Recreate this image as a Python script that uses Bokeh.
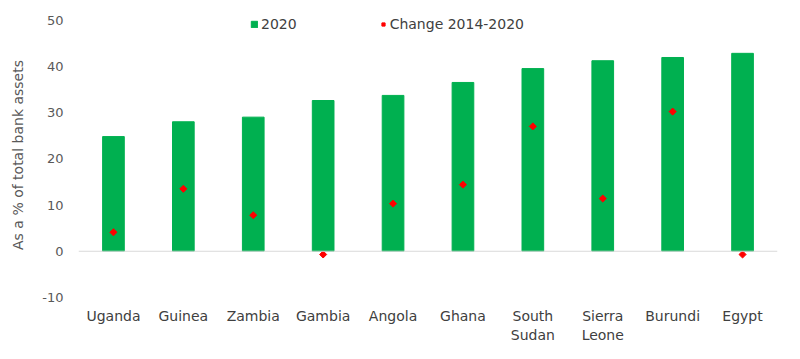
import math
from bokeh.plotting import figure
from bokeh.models import ColumnDataSource, FactorRange, Span, FixedTicker, Legend, LegendItem
from bokeh.embed import file_html
from bokeh.resources import INLINE

countries = ["Uganda", "Guinea", "Zambia", "Gambia", "Angola", "Ghana",
             "South\nSudan", "Sierra\nLeone", "Burundi", "Egypt"]
share_2020 = [24.8, 28.0, 29.0, 32.6, 33.7, 36.5, 39.5, 41.2, 41.9, 42.8]
change_2014_2020 = [4.1, 13.5, 7.8, -0.7, 10.3, 14.4, 27.0, 11.4, 30.2, -0.7]
y_ticks = [-10, 0, 10, 20, 30, 40, 50]

src = ColumnDataSource(dict(x=countries, bar=share_2020, chg=change_2014_2020))

FONT = "DejaVu Sans"
p = figure(x_range=FactorRange(*countries), y_range=(-10, 51.63),
           frame_width=699, frame_height=285,
           min_border_left=78, min_border_right=15, min_border_top=12, min_border_bottom=46,
           output_backend="svg", toolbar_location=None)
p.outline_line_color = None
p.xgrid.grid_line_color = None
p.ygrid.grid_line_color = None

bars = p.vbar(x="x", top="bar", width=0.31, source=src, fill_color="#00b050", line_color="#00b050")
pts = p.scatter(x="x", y="chg", source=src, marker="square", size=5, angle=math.pi / 4,
                fill_color="#ff0000", line_color="#ff0000")

zero = Span(location=0, dimension="width", line_color="#d9d9d9", line_width=1)
p.add_layout(zero)
p.renderers.remove(bars)
p.renderers.remove(pts)
p.renderers.extend([bars, pts])

for ax in (p.xaxis[0], p.yaxis[0]):
    ax.axis_line_color = None
    ax.major_tick_line_color = None
    ax.minor_tick_line_color = None
    ax.major_label_text_font = FONT
    ax.major_label_text_color = "#595959"

p.xaxis.major_label_text_font_size = "14px"
p.xaxis.major_label_text_color = "#404040"
p.xaxis.major_label_standoff = 4
p.yaxis.major_label_text_font_size = "13px"
p.yaxis.ticker = FixedTicker(ticks=y_ticks)
p.yaxis.major_label_overrides = {-10: "-10"}
p.yaxis.major_label_standoff = 9
p.yaxis.axis_label = "As a % of total bank assets"
p.yaxis.axis_label_text_font = FONT
p.yaxis.axis_label_text_font_style = "normal"
p.yaxis.axis_label_text_font_size = "14px"
p.yaxis.axis_label_text_color = "#595959"
p.yaxis.axis_label_standoff = 13

legend = Legend(items=[LegendItem(label="2020", renderers=[bars]),
                       LegendItem(label="Change 2014-2020", renderers=[pts])],
                orientation="horizontal", location=(172, 265))
legend.label_text_font = FONT
legend.label_text_font_size = "14px"
legend.label_text_color = "#404040"
legend.glyph_width = 8
legend.glyph_height = 8
legend.spacing = 82
legend.label_standoff = 3
legend.border_line_color = None
legend.background_fill_alpha = 0
legend.margin = 0
legend.padding = 2
p.add_layout(legend)

open("out.html", "w").write(file_html(p, INLINE))
